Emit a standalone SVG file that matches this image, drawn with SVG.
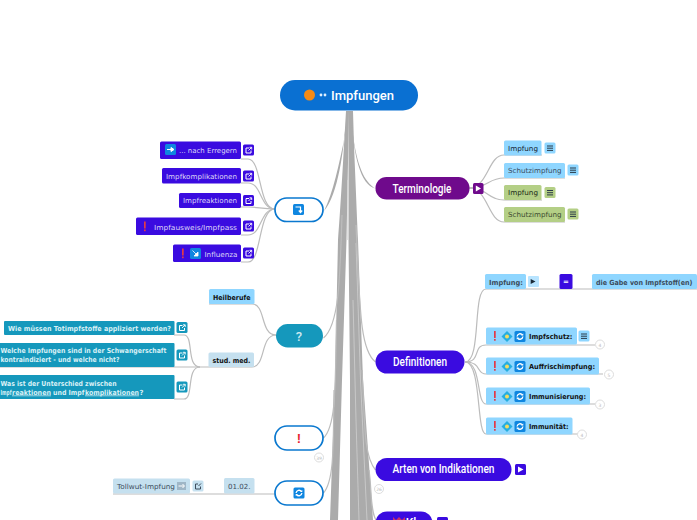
<svg xmlns="http://www.w3.org/2000/svg" width="697" height="520" viewBox="0 0 697 520">
<style>
text{font-family:"DejaVu Sans","Liberation Sans",sans-serif;font-size:7px;fill:#14202e}
.main{font-family:Roboto,"Liberation Sans",sans-serif;font-size:12px;font-weight:500;fill:#fff;text-anchor:middle}
.w{fill:#ddd6f8}.g{fill:#3c4c5c}.b{font-weight:700;fill:#111}.q{font-weight:700;fill:#d8f0f6}
.vio{fill:#3a0be0}.tea{fill:#1598bc}.lb{fill:#8fd6ff}.gr{fill:#b4cf86}.pb{fill:#c5e0ef}
.line{fill:none;stroke:#bcbcbc;stroke-width:1.2}
.trunk{fill:#ababab}
.hollow{fill:#fff;stroke:#0a78cf;stroke-width:1.7}
.cnt{fill:#fff;stroke:#ddd;stroke-width:1}
.cn{font-size:4.500px;fill:#bbb;text-anchor:middle}
.ex{fill:#e8262e;font-family:"Liberation Sans",sans-serif;font-weight:700;font-size:13px;text-anchor:middle}
</style>
<defs>
<g id="ext"><path d="M3 3.500H6M3 3.500V8.500H8V6" fill="none" stroke="#fff" stroke-width="1"/><path d="M5.500 6L8.500 3M6.500 2.800H8.700V5" fill="none" stroke="#fff" stroke-width=".9"/></g>
<g id="menu"><path d="M2.500 3.500H8.500M2.500 5.700H8.500M2.500 7.900H8.500" stroke="#2a3a48" stroke-width="1"/></g>
<g id="sync"><rect width="11" height="11" rx="1.500" fill="#0f86e0"/><path d="M2.600 5.500A3 3 0 0 1 8 4M8.400 5.500A3 3 0 0 1 3 7" fill="none" stroke="#fff" stroke-width="1.300"/><path d="M8.800 2.400V4.600H6.600ZM2.200 8.600V6.400H4.400Z" fill="#fff"/></g>
<g id="dia"><path d="M5.500 0L11 5.500L5.500 11L0 5.500Z" fill="#25aee0"/><circle cx="5.500" cy="5.500" r="2" fill="#f4dc60"/></g>
<g id="excl"><rect width="1.700" height="7" fill="#e23a46"/><rect y="8" width="1.700" height="1.700" fill="#e23a46"/></g>
</defs>

<g id="connectors">
<path class="trunk" d="M346 111L344 145C343 165 340 215 338 240L335 380L330 520H338L342 380L346.500 240L349 111Z"/>
<path class="trunk" d="M348.500 111H353L354 145C355 170 357 215 358 240L363 380L373 520H350L350 380L348.500 240Z"/>
<path class="trunk" d="M346 118C344 150 338 195 324 211C333 193 339 165 345 135Z"/>
<path class="trunk" d="M351 118C354 155 360 185 375.500 188.500C364 182 357 165 353 135Z"/>
<path d="M347.500 180V240M356 243L360.500 380L367 520M353 300L356 420L359 520" stroke="#d4d4d4" stroke-width=".7" fill="none"/>
<path class="line" d="M342 215C340 280 339 325 323.500 338"/>
<path class="line" d="M336.500 320C335 380 337 425 323.500 438"/>
<path class="line" d="M334 390C333 440 335 480 323.500 493"/>
<path class="line" d="M356 225C360 310 360 350 375.500 362"/>
<path class="line" d="M362 370C365 420 363 455 375.500 470"/>
<path class="line" d="M369 470C372 490 370 510 376 520"/>
<path class="line" d="M241 159H248C262 159 258 209 275 209"/>
<path class="line" d="M241 183H248C262 183 260 209 275 209"/>
<path class="line" d="M241 207H248C258 207 262 209 275 209"/>
<path class="line" d="M241 235H248C262 235 260 209 275 209"/>
<path class="line" d="M241 262H248C262 262 258 209 275 209"/>
<path class="line" d="M209 304H252C266 304 260 335 276 335"/>
<path class="line" d="M209 367H252C266 367 260 335 276 335"/>
<path class="line" d="M0 367H209"/>
<path class="line" d="M174 335H184C194 335 186 367 200 367"/>
<path class="line" d="M174 399H184C194 399 186 367 200 367"/>
<path class="line" d="M113 494H275"/>
<path class="line" d="M469 188C488 188 488 155 504 155H542"/>
<path class="line" d="M469 188C488 188 488 178 504 178H565"/>
<path class="line" d="M469 188C488 188 488 200 504 200H542"/>
<path class="line" d="M469 188C488 188 488 222 504 222H565"/>
<path class="line" d="M465 362C482 362 472 289 486 289H697"/>
<path class="line" d="M465 362C482 362 472 345 486 345H595"/>
<path class="line" d="M465 362C482 362 476 374 486 374H603"/>
<path class="line" d="M465 362C482 362 476 404 486 404H595"/>
<path class="line" d="M465 362C482 362 476 434 486 434H578"/>
</g>

<g id="root"><rect x="280" y="80" width="138" height="30.500" rx="15" fill="#0a70d2"/><circle cx="309.500" cy="95" r="5.500" fill="#f58a14"/><circle cx="321" cy="95" r="1.400" fill="#dfefff"/><circle cx="325" cy="95" r="1.400" fill="#dfefff"/><text x="362.500" y="100" class="main" style="font-size:13px" textLength="63" lengthAdjust="spacingAndGlyphs">Impfungen</text></g>

<g id="n-icon"><rect x="275" y="198" width="48" height="23.500" rx="11.700" class="hollow"/><rect x="293" y="204" width="11" height="11" rx="1.500" fill="#0f86e0"/><path d="M295.500 207H300.500V212M298.800 210.500L300.500 212.500L302.200 210.500" fill="none" stroke="#fff" stroke-width="1.200"/></g>
<g id="n-erregern"><rect x="160" y="141.500" width="81" height="17.500" rx="1.500" class="vio"/><rect x="165" y="144" width="11" height="11" rx="1.500" fill="#0f86e0"/><path d="M167 149.500H173M171 147.500L174 149.500L171 151.500Z" stroke="#fff" fill="#fff"/><text x="179" y="152.500" class="w" textLength="58" lengthAdjust="spacingAndGlyphs">... nach Erregern</text><rect x="243" y="144.500" width="11" height="11" rx="1.500" class="vio"/><use href="#ext" x="243" y="144.500"/></g>
<g id="n-kompl"><rect x="162" y="168" width="79" height="15.500" rx="1.500" class="vio"/><text x="166" y="178.500" class="w" textLength="71" lengthAdjust="spacingAndGlyphs">Impfkomplikationen</text><rect x="243" y="170.500" width="11" height="11" rx="1.500" class="vio"/><use href="#ext" x="243" y="170.500"/></g>
<g id="n-reakt"><rect x="179" y="193" width="62" height="15" rx="1.500" class="vio"/><text x="183" y="203" class="w" textLength="54" lengthAdjust="spacingAndGlyphs">Impfreaktionen</text><rect x="243" y="195" width="11" height="11" rx="1.500" class="vio"/><use href="#ext" x="243" y="195"/></g>
<g id="n-ausweis"><rect x="136" y="217.500" width="105" height="17.500" rx="1.500" class="vio"/><use href="#excl" x="144" y="221.500"/><text x="154" y="229.500" class="w" textLength="83" lengthAdjust="spacingAndGlyphs">Impfausweis/Impfpass</text><rect x="243" y="220.500" width="11" height="11" rx="1.500" class="vio"/><use href="#ext" x="243" y="220.500"/></g>
<g id="n-influenza"><rect x="173" y="244.500" width="68" height="17.500" rx="1.500" class="vio"/><use href="#excl" x="182" y="248.500"/><rect x="190" y="248" width="11" height="11" rx="1.500" fill="#0f86e0"/><path d="M192.500 250.500L197.500 255.500M198 252V256H194Z" stroke="#fff" fill="#fff" stroke-width=".8"/><text x="204.500" y="256.500" class="w" textLength="33" lengthAdjust="spacingAndGlyphs">Influenza</text><rect x="243" y="247.500" width="11" height="11" rx="1.500" class="vio"/><use href="#ext" x="243" y="247.500"/></g>

<g id="n-frage"><rect x="276" y="324" width="47" height="23.500" rx="11.700" class="tea"/><text x="299" y="340.500" class="main" style="fill:#cde8f0;font-size:13px">?</text></g>
<g id="n-heil"><rect x="209" y="289" width="45.500" height="15" rx="1.500" class="lb"/><text x="213" y="299.500" class="b" textLength="37.500" lengthAdjust="spacingAndGlyphs">Heilberufe</text></g>
<g id="n-stud"><rect x="208.500" y="352.500" width="45.500" height="14.500" rx="1.500" class="pb"/><text x="212.500" y="362.500" class="b" textLength="38" lengthAdjust="spacingAndGlyphs">stud. med.</text></g>
<g id="n-q1"><rect x="4" y="321" width="170.500" height="14" rx="1" class="tea"/><text x="8" y="331" class="q" textLength="163" lengthAdjust="spacingAndGlyphs">Wie müssen Totimpfstoffe appliziert werden?</text><rect x="176.500" y="322" width="11" height="11" rx="1.500" class="tea"/><use href="#ext" x="176.500" y="322"/></g>
<g id="n-q2"><rect x="-4" y="343" width="178.500" height="24" rx="1" class="tea"/><text x="0.500" y="353" class="q" textLength="166" lengthAdjust="spacingAndGlyphs">Welche Impfungen sind in der Schwangerschaft</text><text x="0.500" y="362" class="q" textLength="119" lengthAdjust="spacingAndGlyphs">kontraindiziert - und welche nicht?</text><rect x="176.500" y="349.500" width="11" height="11" rx="1.500" class="tea"/><use href="#ext" x="176.500" y="349.500"/></g>
<g id="n-q3"><rect x="-4" y="375" width="178.500" height="24" rx="1" class="tea"/><text x="0.500" y="385.500" class="q" textLength="116" lengthAdjust="spacingAndGlyphs">Was ist der Unterschied zwischen</text><text x="0.500" y="394.500" class="q" textLength="11" lengthAdjust="spacingAndGlyphs">Impf</text><text x="12" y="394.500" class="q" text-decoration="underline" textLength="39" lengthAdjust="spacingAndGlyphs">reaktionen</text><text x="53" y="394.500" class="q" textLength="31.500" lengthAdjust="spacingAndGlyphs">und Impf</text><text x="85" y="394.500" class="q" text-decoration="underline" textLength="54" lengthAdjust="spacingAndGlyphs">komplikationen</text><text x="139.500" y="394.500" class="q" textLength="4" lengthAdjust="spacingAndGlyphs">?</text><rect x="176.500" y="381.500" width="11" height="11" rx="1.500" class="tea"/><use href="#ext" x="176.500" y="381.500"/></g>

<g id="n-excl"><rect x="275" y="426" width="48" height="24" rx="12" class="hollow"/><text x="299" y="443" class="ex">!</text><circle cx="319" cy="457.500" r="4.500" class="cnt"/><text x="319" y="459.500" class="cn">39</text></g>
<g id="n-sync"><rect x="275" y="481" width="48" height="24" rx="12" class="hollow"/><use href="#sync" x="293.500" y="487.500"/></g>
<g id="n-date"><rect x="224" y="478" width="30.500" height="15.500" rx="1.500" class="pb"/><text x="228" y="488.500" class="g" textLength="22.500" lengthAdjust="spacingAndGlyphs">01.02.</text></g>
<g id="n-toll"><rect x="113" y="478.500" width="77" height="15" rx="1.500" class="pb"/><text x="117" y="488.500" class="g" textLength="58" lengthAdjust="spacingAndGlyphs">Tollwut-Impfung</text><rect x="177" y="482" width="9" height="8" fill="#9fb6c6"/><path d="M178.500 486H184M182.500 484L184.500 486L182.500 488" stroke="#fff" fill="none"/><rect x="192.500" y="480.500" width="11" height="11" rx="1.500" class="pb"/><path d="M195.500 484H198M195.500 484V489H200.500V486.500M198.500 486L201 483.500" fill="none" stroke="#3c4c5c"/></g>

<g id="n-term"><rect x="375.500" y="177" width="94" height="22.500" rx="11" fill="#6f0a8c"/><text x="422" y="192.500" class="main" textLength="59" lengthAdjust="spacingAndGlyphs">Terminologie</text><rect x="473" y="183" width="10.500" height="11" rx="1.500" fill="#6f0a8c"/><path d="M475.800 185.500L481 188.500L475.800 191.500Z" fill="#fff"/></g>
<g id="n-t1"><rect x="504" y="140.500" width="37.500" height="15" rx="1.500" class="lb"/><text x="508" y="150.500" textLength="30" lengthAdjust="spacingAndGlyphs">Impfung</text><rect x="544.500" y="142.500" width="11" height="11" rx="1.500" class="lb"/><use href="#menu" x="544.500" y="142.500"/></g>
<g id="n-t2"><rect x="504" y="163" width="61" height="15" rx="1.500" class="lb"/><text x="508" y="173" class="g" textLength="53.500" lengthAdjust="spacingAndGlyphs">Schutzimpfung</text><rect x="567.500" y="164.500" width="11" height="11" rx="1.500" class="lb"/><use href="#menu" x="567.500" y="164.500"/></g>
<g id="n-t3"><rect x="504" y="185" width="37.500" height="15" rx="1.500" class="gr"/><text x="508" y="195" style="fill:#1b2a18" textLength="30" lengthAdjust="spacingAndGlyphs">Impfung</text><rect x="544.500" y="187" width="11" height="11" rx="1.500" class="gr"/><use href="#menu" x="544.500" y="187"/></g>
<g id="n-t4"><rect x="504" y="207" width="61" height="15" rx="1.500" class="gr"/><text x="508" y="217" style="fill:#3c4c30" textLength="53.500" lengthAdjust="spacingAndGlyphs">Schutzimpfung</text><rect x="567.500" y="208.500" width="11" height="11" rx="1.500" class="gr"/><use href="#menu" x="567.500" y="208.500"/></g>

<g id="n-def"><rect x="375.500" y="350.500" width="89" height="23" rx="11.500" class="vio"/><text x="420" y="365.500" class="main" textLength="54" lengthAdjust="spacingAndGlyphs">Definitionen</text></g>
<g id="n-d0"><rect x="485" y="274" width="41" height="15" rx="1.500" class="lb"/><text x="489" y="284.500" class="g" style="font-weight:700" textLength="34" lengthAdjust="spacingAndGlyphs">Impfung:</text><rect x="528" y="276" width="11" height="11" rx="1" fill="#b8e4ff"/><path d="M530.700 279L535.500 281.500L530.700 284Z" fill="#1b2a38"/><rect x="559.500" y="274" width="13" height="15" rx="1.500" class="vio"/><text x="566" y="284" class="b" style="fill:#fff;text-anchor:middle">=</text><rect x="592" y="274" width="105" height="15" rx="1.500" class="lb"/><text x="596" y="284.500" class="g" style="font-weight:700" textLength="96.500" lengthAdjust="spacingAndGlyphs">die Gabe von Impfstoff(en)</text></g>
<g id="n-d1"><rect x="486" y="327.500" width="91" height="17" rx="1.500" class="lb"/><use href="#excl" x="494" y="331"/><use href="#dia" x="501.500" y="331"/><use href="#sync" x="514.500" y="331"/><text x="529" y="339" class="b" textLength="43.500" lengthAdjust="spacingAndGlyphs">Impfschutz:</text><rect x="578.500" y="330.500" width="11" height="11" rx="1.500" class="lb"/><use href="#menu" x="578.500" y="330.500"/><circle cx="600" cy="344.500" r="4.500" class="cnt"/><text x="600" y="346.500" class="cn">4</text></g>
<g id="n-d2"><rect x="486" y="357.500" width="113" height="17" rx="1.500" class="lb"/><use href="#excl" x="494" y="361"/><use href="#dia" x="501.500" y="361"/><use href="#sync" x="514.500" y="361"/><text x="529" y="369" class="b" textLength="66" lengthAdjust="spacingAndGlyphs">Auffrischimpfung:</text><circle cx="609" cy="374.500" r="4.500" class="cnt"/><text x="609" y="376.500" class="cn">5</text></g>
<g id="n-d3"><rect x="486" y="387.500" width="104" height="17" rx="1.500" class="lb"/><use href="#excl" x="494" y="391"/><use href="#dia" x="501.500" y="391"/><use href="#sync" x="514.500" y="391"/><text x="529" y="399" class="b" textLength="57" lengthAdjust="spacingAndGlyphs">Immunisierung:</text><circle cx="600" cy="404.500" r="4.500" class="cnt"/><text x="600" y="406.500" class="cn">3</text></g>
<g id="n-d4"><rect x="486" y="417.500" width="86.500" height="17" rx="1.500" class="lb"/><use href="#excl" x="494" y="421"/><use href="#dia" x="501.500" y="421"/><use href="#sync" x="514.500" y="421"/><text x="529" y="429" class="b" textLength="39.500" lengthAdjust="spacingAndGlyphs">Immunität:</text><circle cx="582" cy="434.500" r="4.500" class="cnt"/><text x="582" y="436.500" class="cn">4</text></g>

<g id="n-arten"><rect x="375.500" y="458" width="136" height="23" rx="11.500" class="vio"/><text x="443.500" y="473" class="main" textLength="102" lengthAdjust="spacingAndGlyphs">Arten von Indikationen</text><rect x="515" y="464" width="11" height="11" rx="1.500" class="vio"/><path d="M518 466.500L523.500 469.500L518 472.500Z" fill="#fff"/><circle cx="379" cy="489" r="4.500" class="cnt"/><text x="379" y="491" class="cn">26</text></g>
<g id="n-kl"><rect x="375.500" y="511.500" width="57" height="23" rx="11.500" class="vio"/><path d="M393 517L396 520L399 517V522H393ZM399 517L402 520L405 517V522H399Z" fill="#c8306a"/><text x="411" y="527" class="main">Kl</text><rect x="437" y="517" width="11" height="11" rx="1.500" class="vio"/></g>
</svg>
